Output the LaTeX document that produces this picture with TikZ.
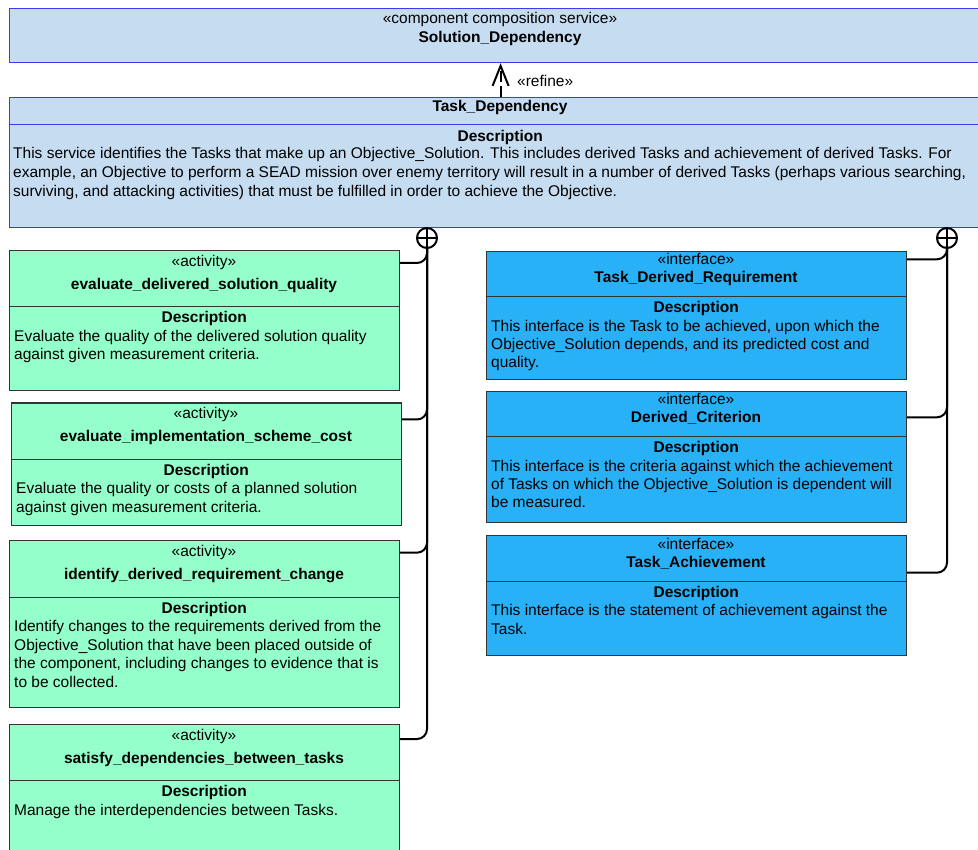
\documentclass[tikz,border=0pt]{standalone}
\usepackage{fontspec}
\setmainfont{Liberation Sans}
\usepackage{xcolor}
\usetikzlibrary{positioning, arrows.meta}
\definecolor{servicefill}{HTML}{C6DCF0}
\definecolor{serviceline}{HTML}{3B3BF5}
\definecolor{activityfill}{HTML}{94FFCA}
\definecolor{interfacefill}{HTML}{29B1F7}
\definecolor{partline}{HTML}{333333}

\tikzset{
  part/.style={draw=partline, line width=1.2pt, anchor=north west, inner sep=0pt},
  service/.style={part, fill=servicefill, draw=serviceline},
  activity/.style={part, fill=activityfill},
  interface/.style={part, fill=interfacefill},
  % texts are placed by the baseline of their last line
  heading/.style={anchor=base, align=center, inner sep=0pt},
  descr/.style={anchor=base west, align=left, inner sep=0pt},
  nest/.style={line width=2pt, rounded corners=10pt},
  nestmark/.style={circle, draw, line width=2pt, minimum size=20pt, inner sep=0pt, fill=white,
    path picture={\draw[line width=2pt] (path picture bounding box.north) -- (path picture bounding box.south)
      (path picture bounding box.west) -- (path picture bounding box.east);}},
  refine/.style={line width=2pt, dash pattern=on 11pt off 4pt, -{Straight Barb[length=20pt, width=16pt]}}
}

\begin{document}
\begin{tikzpicture}[x=1pt, y=-1pt, font=\fontsize{15.5}{18.4}\selectfont]
  \useasboundingbox (0,0) rectangle (978,850);

  % the composition service and the service refining it
  \node[service, minimum width=982pt, minimum height=54pt] (soldep) at (9,8) {};
  \node[heading] (soldeptitle) at (500,43) {«component composition service»\\[0.6pt]\textbf{Solution\_Dependency}};

  \node[service, minimum width=982pt, minimum height=27.3pt] (taskhead) at (9,97) {};
  \node[service, minimum width=982pt, minimum height=102.4pt] (taskbody) at (9,124.3) {};
  \node[heading] (tasktitle) at (500,111.7) {\textbf{Task\_Dependency}};
  \node[descr, font=\fontsize{15.5}{19}\selectfont] (tasktext) at (13,196.3) {\makebox[974pt]{\textbf{Description}}\\[-2.4pt]
    This service identifies the Tasks that make up an Objective\_Solution. This includes derived Tasks and achievement of derived Tasks. For\\
    example, an Objective to perform a SEAD mission over enemy territory will result in a number of derived Tasks (perhaps various searching,\\
    surviving, and attacking activities) that must be fulfilled in order to achieve the Objective.};

  \draw[refine] (taskhead.north) -- (soldep.south);
  \node[anchor=base west, inner sep=0pt] (refinelabel) at (517,87) {«refine»};

  % activities
  \node[activity, minimum width=390pt, minimum height=56pt] (evalquality) at (9,250) {};
  \node[activity, minimum width=390pt, minimum height=84pt] (evalqualitybody) at (9,306) {};
  \node[heading] at (204,289.5) {«activity»\\[4.4pt]\textbf{evaluate\_delivered\_solution\_quality}};
  \node[descr] at (14,359.8) {\makebox[380pt]{\textbf{Description}}\\
    Evaluate the quality of the delivered solution quality\\
    against given measurement criteria.};

  \node[activity, minimum width=390pt, minimum height=56.5pt] (evalcost) at (11,402.5) {};
  \node[activity, minimum width=390pt, minimum height=66pt] (evalcostbody) at (11,459) {};
  \node[heading] at (206,441.8) {«activity»\\[4.4pt]\textbf{evaluate\_implementation\_scheme\_cost}};
  \node[descr] at (16,512.3) {\makebox[380pt]{\textbf{Description}}\\
    Evaluate the quality or costs of a planned solution\\
    against given measurement criteria.};

  \node[activity, minimum width=390pt, minimum height=56.5pt] (identchange) at (9,540) {};
  \node[activity, minimum width=390pt, minimum height=110.5pt] (identchangebody) at (9,596.5) {};
  \node[heading] at (204,579.5) {«activity»\\[4.4pt]\textbf{identify\_derived\_requirement\_change}};
  \node[descr] at (14,687.1) {\makebox[380pt]{\textbf{Description}}\\
    Identify changes to the requirements derived from the\\
    Objective\_Solution that have been placed outside of\\
    the component, including changes to evidence that is\\
    to be collected.};

  \node[activity, minimum width=390pt, minimum height=56pt] (satisfydeps) at (9,724) {};
  \node[activity, minimum width=390pt, minimum height=90pt] (satisfydepsbody) at (9,780) {};
  \node[heading] at (204,763.5) {«activity»\\[4.4pt]\textbf{satisfy\_dependencies\_between\_tasks}};
  \node[descr] at (14,815.1) {\makebox[380pt]{\textbf{Description}}\\
    Manage the interdependencies between Tasks.};

  % interfaces
  \node[interface, minimum width=420pt, minimum height=45pt] (taskreq) at (486,251) {};
  \node[interface, minimum width=420pt, minimum height=83.3pt] (taskreqbody) at (486,296) {};
  \node[heading] at (696,282.7) {«interface»\\[-0.7pt]\textbf{Task\_Derived\_Requirement}};
  \node[descr] at (491,367.9) {\makebox[410pt]{\textbf{Description}}\\
    This interface is the Task to be achieved, upon which the\\
    Objective\_Solution depends, and its predicted cost and\\
    quality.};

  \node[interface, minimum width=420pt, minimum height=45pt] (derivedcrit) at (486,391) {};
  \node[interface, minimum width=420pt, minimum height=86pt] (derivedcritbody) at (486,436) {};
  \node[heading] at (696,422.7) {«interface»\\[-0.7pt]\textbf{Derived\_Criterion}};
  \node[descr] at (491,507.9) {\makebox[410pt]{\textbf{Description}}\\
    This interface is the criteria against which the achievement\\
    of Tasks on which the Objective\_Solution is dependent will\\
    be measured.};

  \node[interface, minimum width=420pt, minimum height=46pt] (taskach) at (486,535) {};
  \node[interface, minimum width=420pt, minimum height=74pt] (taskachbody) at (486,581) {};
  \node[heading] at (696,567) {«interface»\\[-0.7pt]\textbf{Task\_Achievement}};
  \node[descr] at (491,634.1) {\makebox[410pt]{\textbf{Description}}\\
    This interface is the statement of achievement against the\\
    Task.};

  % nesting of the parts in Task_Dependency
  \node[nestmark] (leftnest) at (427,238) {};
  \node[nestmark] (rightnest) at (947,238) {};

  \draw[nest] ([yshift=-13pt]evalquality.north east) -| (leftnest.south);
  \draw[nest] ([yshift=-17pt]evalcost.north east) -| (leftnest.south);
  \draw[nest] ([yshift=-12.7pt]identchange.north east) -| (leftnest.south);
  \draw[nest] ([yshift=-15pt]satisfydeps.north east) -| (leftnest.south);

  \draw[nest] ([yshift=-8.3pt]taskreq.north east) -| (rightnest.south);
  \draw[nest] ([yshift=-26.3pt]derivedcrit.north east) -| (rightnest.south);
  \draw[nest] ([yshift=-37.7pt]taskach.north east) -| (rightnest.south);
\end{tikzpicture}
\end{document}
